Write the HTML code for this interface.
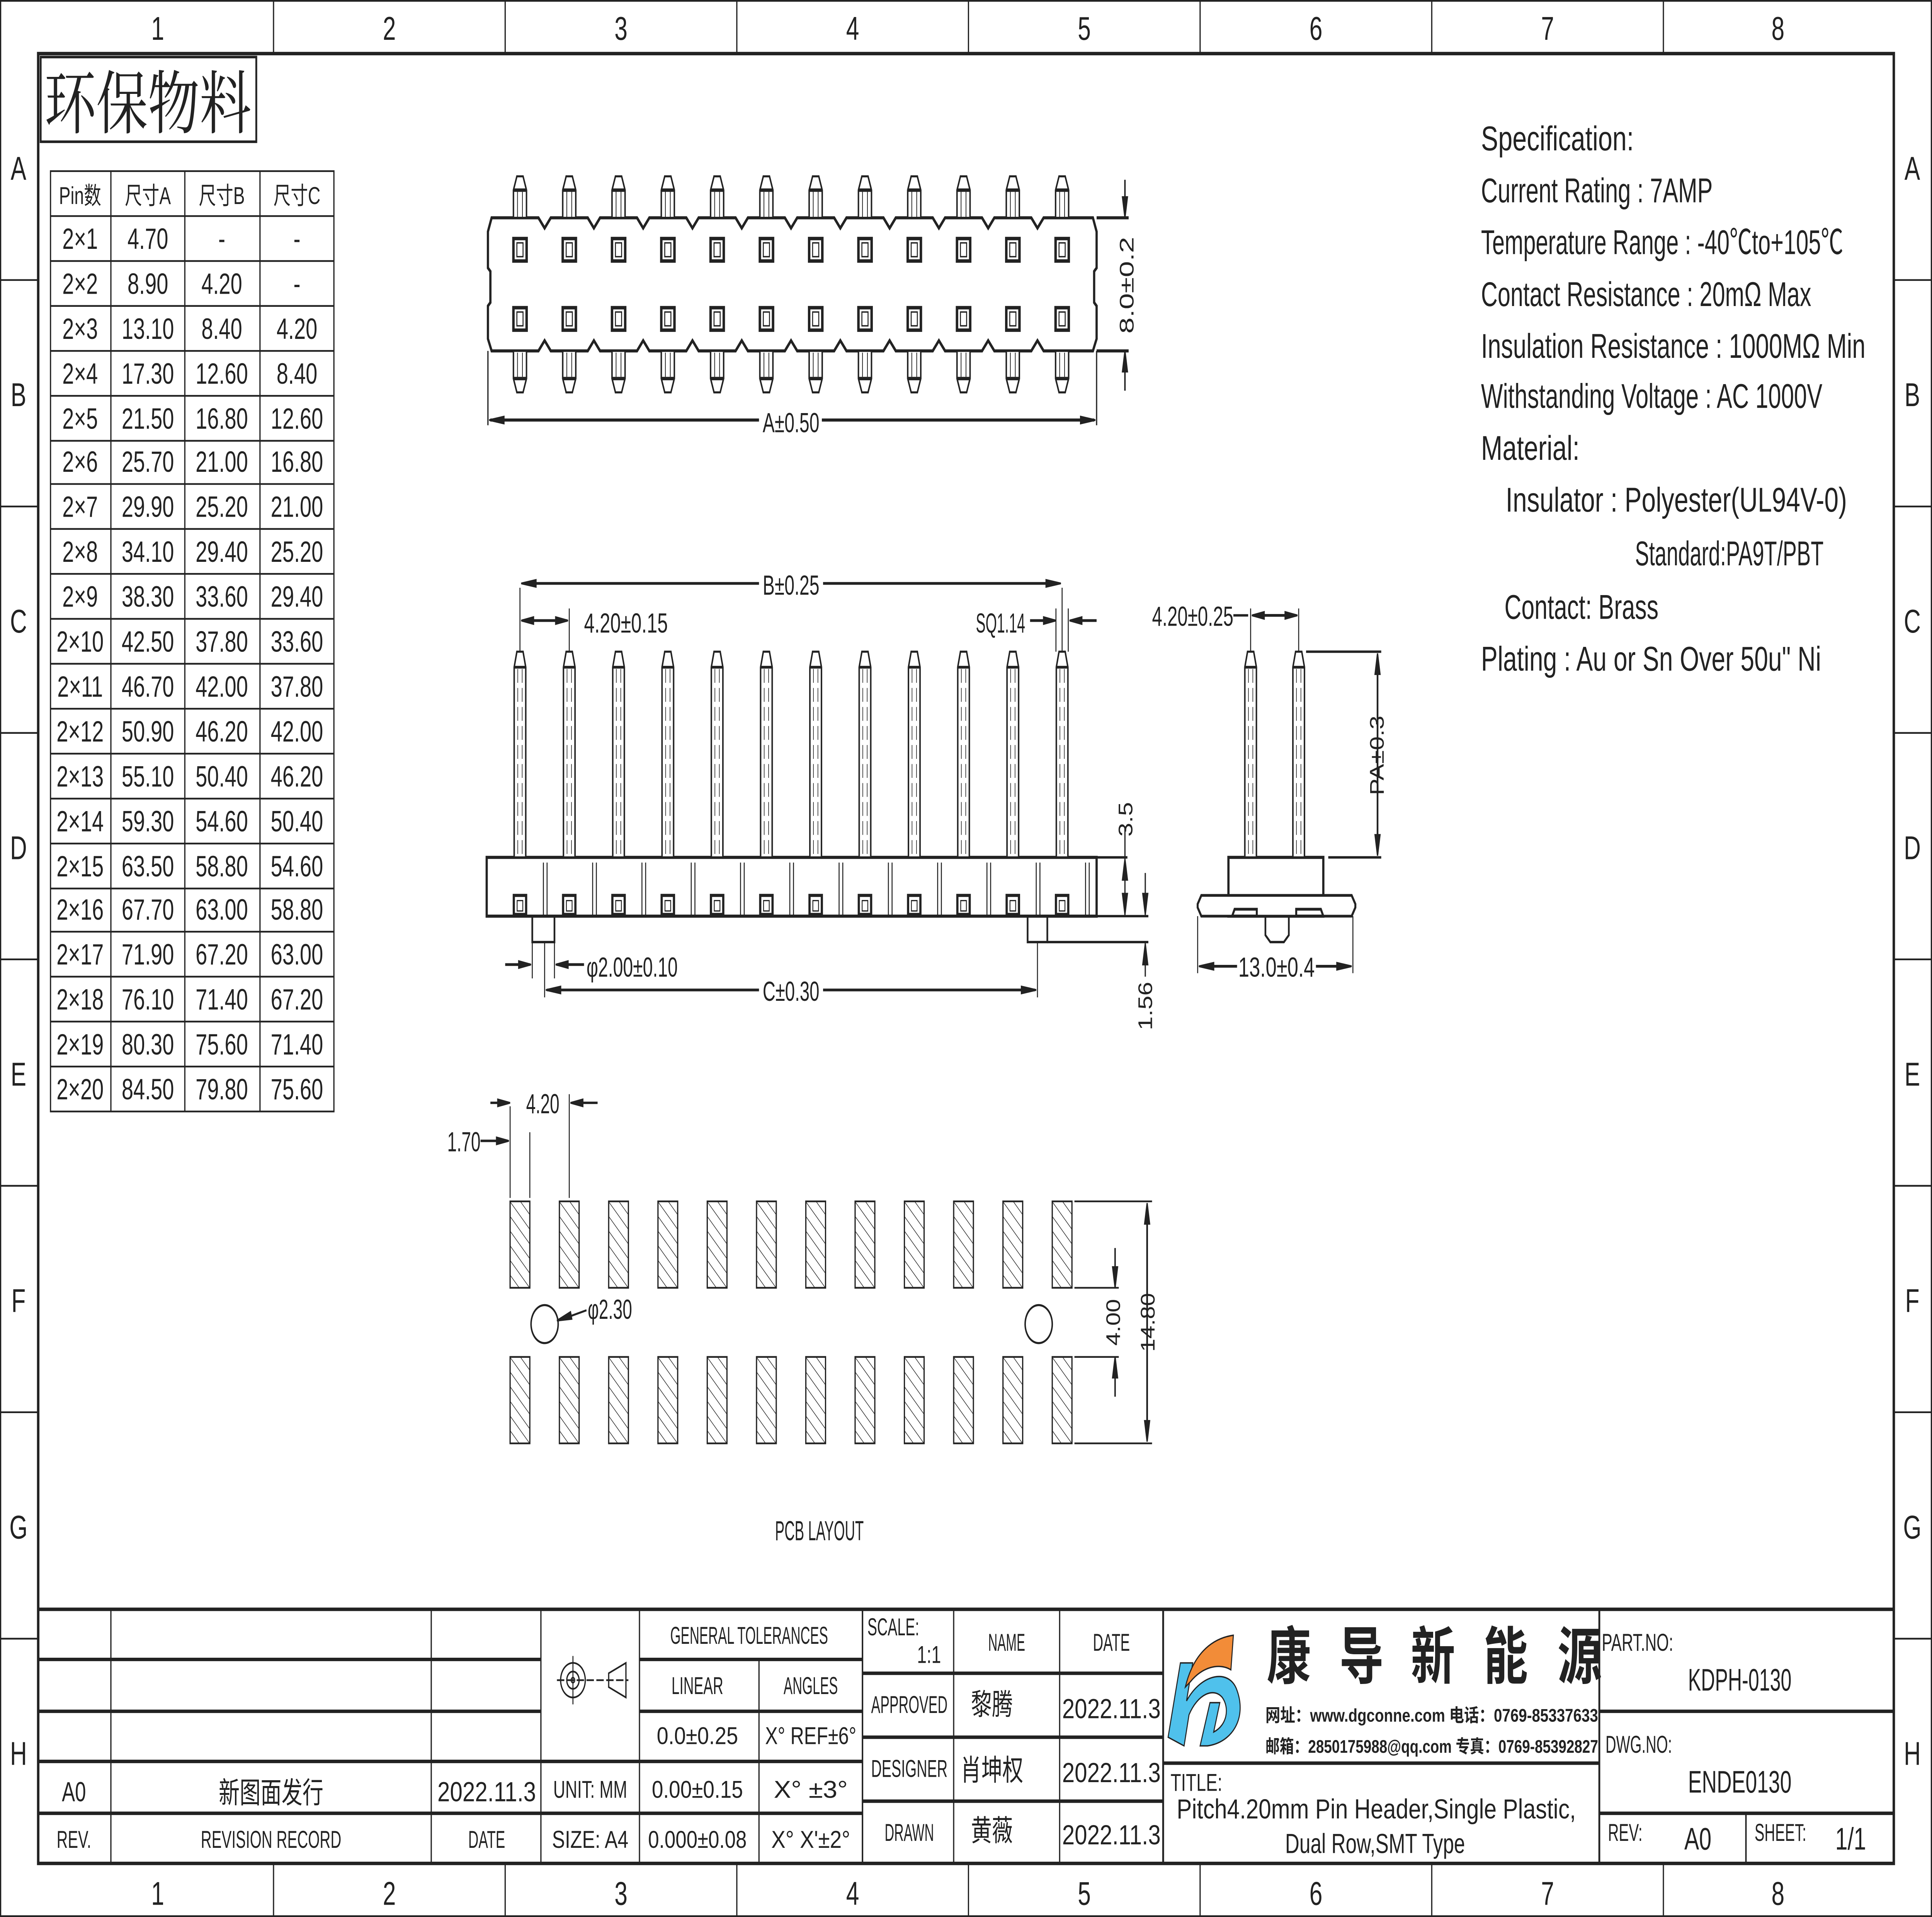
<!DOCTYPE html>
<html><head><meta charset="utf-8"><style>
html,body{margin:0;padding:0;background:#fff;width:100%;height:100%;overflow:hidden}
svg{display:block;position:fixed;left:0;top:0;width:100vw;height:100vh}
text{font-family:"Liberation Sans","Noto Sans CJK SC",sans-serif;fill:#222}
.s{font-family:"Liberation Serif","Noto Serif CJK SC",serif}
</style></head><body>
<svg viewBox="0 0 1568 1109" preserveAspectRatio="none" xmlns="http://www.w3.org/2000/svg">
<defs>
<pattern id="h" patternUnits="userSpaceOnUse" width="6" height="6" patternTransform="rotate(-45)">
<line x1="0" y1="0" x2="0" y2="6" stroke="#222" stroke-width="0.8"/></pattern>
<g id="tp" fill="#fff" stroke="#222" stroke-width="1.2">
<path d="M-2.5,102 L2.5,102 L5.3,110 L5.3,126 L-5.3,126 L-5.3,110 Z"/><line x1="-5.3" y1="110" x2="5.3" y2="110" stroke-width="2"/>
<line x1="-2" y1="111" x2="-2" y2="126" stroke-width="0.6"/><line x1="2" y1="111" x2="2" y2="126" stroke-width="0.6"/></g>
<g id="bp" fill="#fff" stroke="#222" stroke-width="1.2">
<path d="M-5.3,203 L5.3,203 L5.3,219 L2.5,227 L-2.5,227 L-5.3,219 Z"/><line x1="-5.3" y1="219" x2="5.3" y2="219" stroke-width="2"/>
<line x1="-2" y1="204" x2="-2" y2="218" stroke-width="0.6"/><line x1="2" y1="204" x2="2" y2="218" stroke-width="0.6"/></g>
<g id="sq" fill="none" stroke="#222"><rect x="-5.3" y="0" width="10.7" height="13" stroke-width="2"/><rect x="-2.5" y="2.5" width="5" height="8" stroke-width="0.8"/></g>
<g id="sp" fill="#fff" stroke="#222" stroke-width="1.2">
<path d="M-2.5,377 L2.5,377 L4.7,386 L4.7,496 L-4.7,496 L-4.7,386 Z"/><line x1="-4.7" y1="386" x2="4.7" y2="386" stroke-width="1.6"/>
<line x1="-1.8" y1="387" x2="-1.8" y2="496" stroke-width="0.5" stroke-dasharray="8,3"/><line x1="1.8" y1="387" x2="1.8" y2="496" stroke-width="0.5" stroke-dasharray="8,3"/></g>
<g id="sb" fill="none" stroke="#222"><rect x="-5" y="518" width="10" height="11" stroke-width="1.8"/><rect x="-2.3" y="521" width="4.6" height="6" stroke-width="0.7"/>
<line x1="19" y1="499" x2="19" y2="530" stroke-width="0.8"/><line x1="22" y1="499" x2="22" y2="530" stroke-width="0.8"/></g>
<rect id="pd" x="-8" y="0" width="16" height="50" fill="url(#h)" stroke="#222" stroke-width="1"/>
</defs>

<rect x="0.5" y="0.5" width="1567" height="1108" fill="#fff" stroke="#222" stroke-width="1"/>
<rect x="31" y="31" width="1506" height="1047" fill="none" stroke="#222" stroke-width="2"/>
<g stroke="#222" stroke-width="1">
<line x1="222" y1="0" x2="222" y2="31"/><line x1="410" y1="0" x2="410" y2="31"/><line x1="598" y1="0" x2="598" y2="31"/><line x1="786" y1="0" x2="786" y2="31"/><line x1="974" y1="0" x2="974" y2="31"/><line x1="1162" y1="0" x2="1162" y2="31"/><line x1="1350" y1="0" x2="1350" y2="31"/>
<line x1="222" y1="1078" x2="222" y2="1109"/><line x1="410" y1="1078" x2="410" y2="1109"/><line x1="598" y1="1078" x2="598" y2="1109"/><line x1="786" y1="1078" x2="786" y2="1109"/><line x1="974" y1="1078" x2="974" y2="1109"/><line x1="1162" y1="1078" x2="1162" y2="1109"/><line x1="1350" y1="1078" x2="1350" y2="1109"/>
<line x1="0" y1="162" x2="31" y2="162"/><line x1="0" y1="293" x2="31" y2="293"/><line x1="0" y1="424" x2="31" y2="424"/><line x1="0" y1="555" x2="31" y2="555"/><line x1="0" y1="686" x2="31" y2="686"/><line x1="0" y1="817" x2="31" y2="817"/><line x1="0" y1="948" x2="31" y2="948"/>
<line x1="1537" y1="162" x2="1568" y2="162"/><line x1="1537" y1="293" x2="1568" y2="293"/><line x1="1537" y1="424" x2="1568" y2="424"/><line x1="1537" y1="555" x2="1568" y2="555"/><line x1="1537" y1="686" x2="1568" y2="686"/><line x1="1537" y1="817" x2="1568" y2="817"/><line x1="1537" y1="948" x2="1568" y2="948"/>
</g>
<g font-size="19" text-anchor="middle">
<text x="128" y="23">1</text><text x="316" y="23">2</text><text x="504" y="23">3</text><text x="692" y="23">4</text><text x="880" y="23">5</text><text x="1068" y="23">6</text><text x="1256" y="23">7</text><text x="1443" y="23">8</text>
<text x="128" y="1102">1</text><text x="316" y="1102">2</text><text x="504" y="1102">3</text><text x="692" y="1102">4</text><text x="880" y="1102">5</text><text x="1068" y="1102">6</text><text x="1256" y="1102">7</text><text x="1443" y="1102">8</text>
<text x="15" y="104">A</text><text x="15" y="235">B</text><text x="15" y="366">C</text><text x="15" y="497">D</text><text x="15" y="628">E</text><text x="15" y="759">F</text><text x="15" y="890">G</text><text x="15" y="1021">H</text>
<text x="1552" y="104">A</text><text x="1552" y="235">B</text><text x="1552" y="366">C</text><text x="1552" y="497">D</text><text x="1552" y="628">E</text><text x="1552" y="759">F</text><text x="1552" y="890">G</text><text x="1552" y="1021">H</text>
</g>

<rect x="33" y="33" width="175" height="49" fill="none" stroke="#222" stroke-width="1.5"/>
<text x="36" y="74" font-size="40" class="s" textLength="168" lengthAdjust="spacingAndGlyphs">环保物料</text>

<g stroke="#222" stroke-width="1" fill="none">
<rect x="41" y="99" width="230" height="544"/>
<line x1="90" y1="99" x2="90" y2="643"/><line x1="150" y1="99" x2="150" y2="643"/><line x1="211" y1="99" x2="211" y2="643"/>
<line x1="41" y1="125" x2="271" y2="125"/><line x1="41" y1="151" x2="271" y2="151"/><line x1="41" y1="177" x2="271" y2="177"/><line x1="41" y1="203" x2="271" y2="203"/><line x1="41" y1="229" x2="271" y2="229"/><line x1="41" y1="255" x2="271" y2="255"/><line x1="41" y1="280" x2="271" y2="280"/><line x1="41" y1="306" x2="271" y2="306"/><line x1="41" y1="332" x2="271" y2="332"/><line x1="41" y1="358" x2="271" y2="358"/><line x1="41" y1="384" x2="271" y2="384"/><line x1="41" y1="410" x2="271" y2="410"/><line x1="41" y1="436" x2="271" y2="436"/><line x1="41" y1="462" x2="271" y2="462"/><line x1="41" y1="488" x2="271" y2="488"/><line x1="41" y1="514" x2="271" y2="514"/><line x1="41" y1="539" x2="271" y2="539"/><line x1="41" y1="565" x2="271" y2="565"/><line x1="41" y1="591" x2="271" y2="591"/><line x1="41" y1="617" x2="271" y2="617"/>
</g>
<g font-size="17" text-anchor="middle">
<text x="65" y="118" font-size="14">Pin数</text><text x="120" y="118" font-size="14">尺寸A</text><text x="180" y="118" font-size="14">尺寸B</text><text x="241" y="118" font-size="14">尺寸C</text>
<text x="65" y="144">2×1</text><text x="120" y="144">4.70</text><text x="180" y="144">-</text><text x="241" y="144">-</text>
<text x="65" y="170">2×2</text><text x="120" y="170">8.90</text><text x="180" y="170">4.20</text><text x="241" y="170">-</text>
<text x="65" y="196">2×3</text><text x="120" y="196">13.10</text><text x="180" y="196">8.40</text><text x="241" y="196">4.20</text>
<text x="65" y="222">2×4</text><text x="120" y="222">17.30</text><text x="180" y="222">12.60</text><text x="241" y="222">8.40</text>
<text x="65" y="248">2×5</text><text x="120" y="248">21.50</text><text x="180" y="248">16.80</text><text x="241" y="248">12.60</text>
<text x="65" y="273">2×6</text><text x="120" y="273">25.70</text><text x="180" y="273">21.00</text><text x="241" y="273">16.80</text>
<text x="65" y="299">2×7</text><text x="120" y="299">29.90</text><text x="180" y="299">25.20</text><text x="241" y="299">21.00</text>
<text x="65" y="325">2×8</text><text x="120" y="325">34.10</text><text x="180" y="325">29.40</text><text x="241" y="325">25.20</text>
<text x="65" y="351">2×9</text><text x="120" y="351">38.30</text><text x="180" y="351">33.60</text><text x="241" y="351">29.40</text>
<text x="65" y="377">2×10</text><text x="120" y="377">42.50</text><text x="180" y="377">37.80</text><text x="241" y="377">33.60</text>
<text x="65" y="403">2×11</text><text x="120" y="403">46.70</text><text x="180" y="403">42.00</text><text x="241" y="403">37.80</text>
<text x="65" y="429">2×12</text><text x="120" y="429">50.90</text><text x="180" y="429">46.20</text><text x="241" y="429">42.00</text>
<text x="65" y="455">2×13</text><text x="120" y="455">55.10</text><text x="180" y="455">50.40</text><text x="241" y="455">46.20</text>
<text x="65" y="481">2×14</text><text x="120" y="481">59.30</text><text x="180" y="481">54.60</text><text x="241" y="481">50.40</text>
<text x="65" y="507">2×15</text><text x="120" y="507">63.50</text><text x="180" y="507">58.80</text><text x="241" y="507">54.60</text>
<text x="65" y="532">2×16</text><text x="120" y="532">67.70</text><text x="180" y="532">63.00</text><text x="241" y="532">58.80</text>
<text x="65" y="558">2×17</text><text x="120" y="558">71.90</text><text x="180" y="558">67.20</text><text x="241" y="558">63.00</text>
<text x="65" y="584">2×18</text><text x="120" y="584">76.10</text><text x="180" y="584">71.40</text><text x="241" y="584">67.20</text>
<text x="65" y="610">2×19</text><text x="120" y="610">80.30</text><text x="180" y="610">75.60</text><text x="241" y="610">71.40</text>
<text x="65" y="636">2×20</text><text x="120" y="636">84.50</text><text x="180" y="636">79.80</text><text x="241" y="636">75.60</text>
</g>

<g font-size="20">
<text x="1202" y="87" textLength="124" lengthAdjust="spacingAndGlyphs">Specification:</text>
<text x="1202" y="117" textLength="188" lengthAdjust="spacingAndGlyphs">Current Rating : 7AMP</text>
<text x="1202" y="147" textLength="294" lengthAdjust="spacingAndGlyphs">Temperature Range : -40℃to+105℃</text>
<text x="1202" y="177" textLength="268" lengthAdjust="spacingAndGlyphs">Contact Resistance : 20mΩ Max</text>
<text x="1202" y="207" textLength="312" lengthAdjust="spacingAndGlyphs">Insulation Resistance : 1000MΩ Min</text>
<text x="1202" y="236" textLength="277" lengthAdjust="spacingAndGlyphs">Withstanding Voltage : AC 1000V</text>
<text x="1202" y="266" textLength="80" lengthAdjust="spacingAndGlyphs">Material:</text>
<text x="1222" y="296" textLength="277" lengthAdjust="spacingAndGlyphs">Insulator : Polyester(UL94V-0)</text>
<text x="1327" y="327" textLength="153" lengthAdjust="spacingAndGlyphs">Standard:PA9T/PBT</text>
<text x="1221" y="358" textLength="125" lengthAdjust="spacingAndGlyphs">Contact: Brass</text>
<text x="1202" y="388" textLength="276" lengthAdjust="spacingAndGlyphs">Plating : Au or Sn Over 50u" Ni</text>
</g>

<g stroke="#222" fill="none">
<path d="M396,134 L399,126 L437,126 L442,132 L447,126 L477,126 L482,132 L487,126 L517,126 L522,132 L527,126 L557,126 L562,132 L567,126 L597,126 L602,132 L607,126 L637,126 L642,132 L647,126 L677,126 L682,132 L687,126 L717,126 L722,132 L727,126 L757,126 L762,132 L767,126 L797,126 L802,132 L807,126 L837,126 L842,132 L847,126 L887,126 L890,134 L890,155 L888,157 L888,175 L890,177 L890,196 L887,203 L847,203 L842,197 L837,203 L807,203 L802,197 L797,203 L767,203 L762,197 L757,203 L727,203 L722,197 L717,203 L687,203 L682,197 L677,203 L647,203 L642,197 L637,203 L607,203 L602,197 L597,203 L567,203 L562,197 L557,203 L527,203 L522,197 L517,203 L487,203 L482,197 L477,203 L447,203 L442,197 L437,203 L399,203 L396,196 L396,177 L398,175 L398,157 L396,155 Z" stroke-width="1.8"/>
<line x1="890" y1="126" x2="916" y2="126" stroke-width="1.8"/><line x1="890" y1="203" x2="916" y2="203" stroke-width="1.8"/>
<line x1="913" y1="104" x2="913" y2="126" stroke-width="1.2"/><path d="M913,126 L911,114 L915,114 Z" fill="#222"/>
<line x1="913" y1="203" x2="913" y2="226" stroke-width="1.2"/><path d="M913,203 L911,215 L915,215 Z" fill="#222"/>
<line x1="396" y1="203" x2="396" y2="246" stroke-width="1"/><line x1="890" y1="203" x2="890" y2="246" stroke-width="1"/>
<line x1="398" y1="243" x2="616" y2="243" stroke-width="1.8"/><line x1="667" y1="243" x2="888" y2="243" stroke-width="1.8"/>
<path d="M397,243 L409,241 L409,245 Z M889,243 L877,241 L877,245 Z" fill="#222"/>
</g>
<text x="642" y="250" font-size="16" text-anchor="middle" textLength="46" lengthAdjust="spacingAndGlyphs">A±0.50</text>
<text transform="translate(920,165) rotate(-90)" font-size="16" text-anchor="middle" textLength="56" lengthAdjust="spacingAndGlyphs">8.0±0.2</text>
<g>
<use href="#tp" x="422"/><use href="#tp" x="462"/><use href="#tp" x="502"/><use href="#tp" x="542"/><use href="#tp" x="582"/><use href="#tp" x="622"/><use href="#tp" x="662"/><use href="#tp" x="702"/><use href="#tp" x="742"/><use href="#tp" x="782"/><use href="#tp" x="822"/><use href="#tp" x="862"/>
<use href="#bp" x="422"/><use href="#bp" x="462"/><use href="#bp" x="502"/><use href="#bp" x="542"/><use href="#bp" x="582"/><use href="#bp" x="622"/><use href="#bp" x="662"/><use href="#bp" x="702"/><use href="#bp" x="742"/><use href="#bp" x="782"/><use href="#bp" x="822"/><use href="#bp" x="862"/>
<use href="#sq" x="422" y="138"/><use href="#sq" x="462" y="138"/><use href="#sq" x="502" y="138"/><use href="#sq" x="542" y="138"/><use href="#sq" x="582" y="138"/><use href="#sq" x="622" y="138"/><use href="#sq" x="662" y="138"/><use href="#sq" x="702" y="138"/><use href="#sq" x="742" y="138"/><use href="#sq" x="782" y="138"/><use href="#sq" x="822" y="138"/><use href="#sq" x="862" y="138"/>
<use href="#sq" x="422" y="178"/><use href="#sq" x="462" y="178"/><use href="#sq" x="502" y="178"/><use href="#sq" x="542" y="178"/><use href="#sq" x="582" y="178"/><use href="#sq" x="622" y="178"/><use href="#sq" x="662" y="178"/><use href="#sq" x="702" y="178"/><use href="#sq" x="742" y="178"/><use href="#sq" x="782" y="178"/><use href="#sq" x="822" y="178"/><use href="#sq" x="862" y="178"/>
</g>

<g stroke="#222" fill="none">
<rect x="395" y="496" width="495" height="34" stroke-width="1.8" fill="#fff"/>
<rect x="432" y="530" width="18" height="15" stroke-width="1.4"/><rect x="834" y="530" width="16" height="15" stroke-width="1.4"/>
<line x1="422" y1="340" x2="422" y2="377" stroke-width="0.8"/><line x1="862" y1="340" x2="862" y2="377" stroke-width="0.8"/>
<line x1="425" y1="337.5" x2="616" y2="337.5" stroke-width="1.6"/><line x1="668" y1="337.5" x2="859" y2="337.5" stroke-width="1.6"/>
<path d="M423,337.5 L435,335.5 L435,339.5 Z M861,337.5 L849,335.5 L849,339.5 Z" fill="#222"/>
<line x1="462" y1="352" x2="462" y2="377" stroke-width="0.8"/>
<line x1="424" y1="359" x2="460" y2="359" stroke-width="1.6"/><path d="M423,359 L433,357 L433,361 Z M461,359 L451,357 L451,361 Z" fill="#222"/>
<line x1="857" y1="352" x2="857" y2="377" stroke-width="0.8"/><line x1="867" y1="352" x2="867" y2="377" stroke-width="0.8"/>
<line x1="836" y1="359" x2="856" y2="359" stroke-width="1.6"/><path d="M857,359 L847,357 L847,361 Z" fill="#222"/>
<line x1="869" y1="359" x2="890" y2="359" stroke-width="1.6"/><path d="M868,359 L878,357 L878,361 Z" fill="#222"/>
<line x1="890" y1="496" x2="915" y2="496" stroke-width="1.4"/><line x1="890" y1="530" x2="932" y2="530" stroke-width="1.4"/>
<line x1="913" y1="478" x2="913" y2="530" stroke-width="1"/><path d="M913,497 L911,509 L915,509 Z M913,529 L911,517 L915,517 Z" fill="#222"/>
<line x1="850" y1="545" x2="932" y2="545" stroke-width="1.4"/>
<line x1="929.5" y1="505" x2="929.5" y2="530" stroke-width="1"/><line x1="929.5" y1="545" x2="929.5" y2="565" stroke-width="1"/>
<path d="M929.5,529 L927.5,517 L931.5,517 Z M929.5,546 L927.5,558 L931.5,558 Z" fill="#222"/>
<line x1="432" y1="545" x2="432" y2="566" stroke-width="0.8"/><line x1="450" y1="545" x2="450" y2="566" stroke-width="0.8"/>
<line x1="410" y1="558" x2="430" y2="558" stroke-width="1.6"/><path d="M431,558 L421,556 L421,560 Z" fill="#222"/>
<line x1="452" y1="558" x2="474" y2="558" stroke-width="1.6"/><path d="M451,558 L461,556 L461,560 Z" fill="#222"/>
<line x1="442" y1="545" x2="442" y2="577" stroke-width="0.8"/><line x1="842" y1="545" x2="842" y2="577" stroke-width="0.8"/>
<line x1="444" y1="572.7" x2="616" y2="572.7" stroke-width="1.6"/><line x1="668" y1="572.7" x2="840" y2="572.7" stroke-width="1.6"/>
<path d="M443,572.7 L455,570.7 L455,574.7 Z M841,572.7 L829,570.7 L829,574.7 Z" fill="#222"/>
</g>
<g>
<use href="#sp" x="422"/><use href="#sp" x="462"/><use href="#sp" x="502"/><use href="#sp" x="542"/><use href="#sp" x="582"/><use href="#sp" x="622"/><use href="#sp" x="662"/><use href="#sp" x="702"/><use href="#sp" x="742"/><use href="#sp" x="782"/><use href="#sp" x="822"/><use href="#sp" x="862"/>
<use href="#sb" x="422"/><use href="#sb" x="462"/><use href="#sb" x="502"/><use href="#sb" x="542"/><use href="#sb" x="582"/><use href="#sb" x="622"/><use href="#sb" x="662"/><use href="#sb" x="702"/><use href="#sb" x="742"/><use href="#sb" x="782"/><use href="#sb" x="822"/><use href="#sb" x="862"/>
</g>
<g font-size="16">
<text x="642" y="344" text-anchor="middle" textLength="46" lengthAdjust="spacingAndGlyphs">B±0.25</text>
<text x="474" y="366" textLength="68" lengthAdjust="spacingAndGlyphs">4.20±0.15</text>
<text x="792" y="366" textLength="40" lengthAdjust="spacingAndGlyphs">SQ1.14</text>
<text x="476" y="565" textLength="74" lengthAdjust="spacingAndGlyphs">φ2.00±0.10</text>
<text x="642" y="579" text-anchor="middle" textLength="46" lengthAdjust="spacingAndGlyphs">C±0.30</text>
<text transform="translate(919,474) rotate(-90)" text-anchor="middle" textLength="20" lengthAdjust="spacingAndGlyphs">3.5</text>
<text transform="translate(935,582) rotate(-90)" text-anchor="middle" textLength="28" lengthAdjust="spacingAndGlyphs">1.56</text>
</g>

<g stroke="#222" fill="none">
<rect x="997" y="496" width="77" height="34" stroke-width="1.8" fill="#fff"/>
<path d="M975,518 L1097,518 L1100,523 L1100,525 L1097,530 L1074,530 L1072,526 L1052,526 L1052,530 L1020,530 L1020,526 L1002,526 L1000,530 L975,530 L972,525 L972,523 Z" stroke-width="1.6" fill="#fff"/>
<path d="M1027,530 L1046,530 L1046,541 L1042,545 L1031,545 L1027,541 Z" stroke-width="1.4"/>
<line x1="972" y1="530" x2="972" y2="563" stroke-width="0.8"/><line x1="1098" y1="530" x2="1098" y2="563" stroke-width="0.8"/>
<line x1="975" y1="559" x2="1004" y2="559" stroke-width="1.6"/><line x1="1068" y1="559" x2="1095" y2="559" stroke-width="1.6"/>
<path d="M973,559 L985,557 L985,561 Z M1097,559 L1085,557 L1085,561 Z" fill="#222"/>
<line x1="1015" y1="352" x2="1015" y2="377" stroke-width="0.8"/><line x1="1054" y1="352" x2="1054" y2="377" stroke-width="0.8"/>
<line x1="1001" y1="356" x2="1013" y2="356" stroke-width="1.4"/>
<line x1="1017" y1="356" x2="1052" y2="356" stroke-width="1.6"/><path d="M1016,356 L1026,354 L1026,358 Z M1053,356 L1043,354 L1043,358 Z" fill="#222"/>
<line x1="1060" y1="377" x2="1121" y2="377" stroke-width="1.4"/><line x1="1078" y1="496" x2="1121" y2="496" stroke-width="1.4"/>
<line x1="1118" y1="379" x2="1118" y2="494" stroke-width="1.4"/><path d="M1118,378 L1116,390 L1120,390 Z M1118,495 L1116,483 L1120,483 Z" fill="#222"/>
</g>
<use href="#sp" x="1015"/><use href="#sp" x="1054"/>
<g font-size="16">
<text x="935" y="362" textLength="66" lengthAdjust="spacingAndGlyphs">4.20±0.25</text>
<text x="1036" y="565" text-anchor="middle" textLength="62" lengthAdjust="spacingAndGlyphs">13.0±0.4</text>
<text transform="translate(1123,437) rotate(-90)" text-anchor="middle" textLength="46" lengthAdjust="spacingAndGlyphs">PA±0.3</text>
</g>

<g>
<use href="#pd" x="422" y="695"/><use href="#pd" x="462" y="695"/><use href="#pd" x="502" y="695"/><use href="#pd" x="542" y="695"/><use href="#pd" x="582" y="695"/><use href="#pd" x="622" y="695"/><use href="#pd" x="662" y="695"/><use href="#pd" x="702" y="695"/><use href="#pd" x="742" y="695"/><use href="#pd" x="782" y="695"/><use href="#pd" x="822" y="695"/><use href="#pd" x="862" y="695"/>
<use href="#pd" x="422" y="785"/><use href="#pd" x="462" y="785"/><use href="#pd" x="502" y="785"/><use href="#pd" x="542" y="785"/><use href="#pd" x="582" y="785"/><use href="#pd" x="622" y="785"/><use href="#pd" x="662" y="785"/><use href="#pd" x="702" y="785"/><use href="#pd" x="742" y="785"/><use href="#pd" x="782" y="785"/><use href="#pd" x="822" y="785"/><use href="#pd" x="862" y="785"/>
</g>
<g stroke="#222" fill="none">
<circle cx="442" cy="766" r="11" stroke-width="1.2"/><circle cx="843" cy="766" r="11" stroke-width="1.2"/>
<line x1="453" y1="764" x2="476" y2="758" stroke-width="1.2"/><path d="M452,764 L463,759 L464,763 Z" fill="#222"/>
<line x1="414" y1="640" x2="414" y2="693" stroke-width="0.8"/><line x1="430" y1="655" x2="430" y2="693" stroke-width="0.8"/><line x1="462" y1="633" x2="462" y2="693" stroke-width="0.8"/>
<line x1="390" y1="660" x2="412" y2="660" stroke-width="1.4"/><path d="M413,660 L403,658 L403,662 Z" fill="#222"/>
<line x1="398" y1="638" x2="412" y2="638" stroke-width="1.4"/><path d="M414,638 L404,636 L404,640 Z" fill="#222"/>
<line x1="464" y1="638" x2="485" y2="638" stroke-width="1.4"/><path d="M463,638 L473,636 L473,640 Z" fill="#222"/>
<line x1="872" y1="695" x2="935" y2="695" stroke-width="1"/><line x1="872" y1="835" x2="935" y2="835" stroke-width="1"/>
<line x1="872" y1="745" x2="908" y2="745" stroke-width="1"/><line x1="872" y1="785" x2="908" y2="785" stroke-width="1"/>
<line x1="931" y1="697" x2="931" y2="833" stroke-width="1.4"/><path d="M931,696 L929,708 L933,708 Z M931,834 L929,822 L933,822 Z" fill="#222"/>
<line x1="905" y1="722" x2="905" y2="745" stroke-width="1.2"/><path d="M905,745 L903,733 L907,733 Z" fill="#222"/>
<line x1="905" y1="785" x2="905" y2="808" stroke-width="1.2"/><path d="M905,785 L903,797 L907,797 Z" fill="#222"/>
</g>
<g font-size="16">
<text x="363" y="666" textLength="27" lengthAdjust="spacingAndGlyphs">1.70</text>
<text x="427" y="644" textLength="27" lengthAdjust="spacingAndGlyphs">4.20</text>
<text x="477" y="763" textLength="36" lengthAdjust="spacingAndGlyphs">φ2.30</text>
<text transform="translate(909,765) rotate(-90)" text-anchor="middle" textLength="27" lengthAdjust="spacingAndGlyphs">4.00</text>
<text transform="translate(937,765) rotate(-90)" text-anchor="middle" textLength="34" lengthAdjust="spacingAndGlyphs">14.80</text>
<text x="665" y="891" text-anchor="middle" textLength="72" lengthAdjust="spacingAndGlyphs">PCB LAYOUT</text>
</g>

<g stroke="#222" fill="none">
<line x1="31" y1="931" x2="1537" y2="931" stroke-width="2"/>
<line x1="31" y1="960" x2="439" y2="960" stroke-width="2"/><line x1="31" y1="990" x2="439" y2="990" stroke-width="2"/><line x1="31" y1="1019" x2="700" y2="1019" stroke-width="2"/><line x1="31" y1="1049" x2="700" y2="1049" stroke-width="2"/>
<line x1="519" y1="960" x2="700" y2="960" stroke-width="2"/><line x1="519" y1="990" x2="700" y2="990" stroke-width="2"/>
<line x1="90" y1="931" x2="90" y2="1078" stroke-width="1"/><line x1="350" y1="931" x2="350" y2="1078" stroke-width="1"/><line x1="439" y1="931" x2="439" y2="1078" stroke-width="1"/><line x1="519" y1="931" x2="519" y2="1078" stroke-width="1"/><line x1="616" y1="960" x2="616" y2="1078" stroke-width="1"/>
<line x1="700" y1="931" x2="700" y2="1078" stroke-width="1.2"/><line x1="774" y1="931" x2="774" y2="1078" stroke-width="1"/><line x1="860" y1="931" x2="860" y2="1078" stroke-width="1"/><line x1="944" y1="931" x2="944" y2="1078" stroke-width="1.5"/>
<line x1="700" y1="968" x2="944" y2="968" stroke-width="2"/><line x1="700" y1="1005" x2="944" y2="1005" stroke-width="2"/><line x1="700" y1="1042" x2="944" y2="1042" stroke-width="2"/>
<line x1="944" y1="1020" x2="1298" y2="1020" stroke-width="2"/>
<line x1="1298" y1="931" x2="1298" y2="1078" stroke-width="1.5"/>
<line x1="1298" y1="990" x2="1537" y2="990" stroke-width="2"/><line x1="1298" y1="1049" x2="1537" y2="1049" stroke-width="2"/>
<line x1="1417" y1="1049" x2="1417" y2="1078" stroke-width="1.2"/>
<circle cx="465" cy="972" r="10" stroke-width="1"/><circle cx="465" cy="972" r="5" stroke-width="1"/><circle cx="465" cy="972" r="1.5" stroke-width="0.8"/>
<line x1="465" y1="958" x2="465" y2="986" stroke-width="0.8"/>
<line x1="452" y1="972" x2="510" y2="972" stroke-width="1" stroke-dasharray="6,2"/>
<path d="M508,962 L508,982 L494,976 L494,968 Z" stroke-width="1"/>
</g>
<g font-size="14" class="s" text-anchor="middle">
<text x="608" y="951" textLength="128" lengthAdjust="spacingAndGlyphs">GENERAL TOLERANCES</text>
<text x="566" y="980" textLength="42" lengthAdjust="spacingAndGlyphs">LINEAR</text><text x="658" y="980" textLength="44" lengthAdjust="spacingAndGlyphs">ANGLES</text>
<text x="566" y="1009" textLength="66" lengthAdjust="spacingAndGlyphs">0.0±0.25</text><text x="658" y="1009" textLength="74" lengthAdjust="spacingAndGlyphs">X° REF±6°</text>
<text x="60" y="1042" font-size="16">A0</text><text x="220" y="1043" font-size="17">新图面发行</text><text x="395" y="1042" font-size="16" textLength="80" lengthAdjust="spacingAndGlyphs">2022.11.3</text>
<text x="479" y="1040" textLength="60" lengthAdjust="spacingAndGlyphs">UNIT: MM</text><text x="566" y="1040" textLength="74" lengthAdjust="spacingAndGlyphs">0.00±0.15</text><text x="658" y="1040" textLength="60" lengthAdjust="spacingAndGlyphs">X° ±3°</text>
<text x="60" y="1069" textLength="28" lengthAdjust="spacingAndGlyphs">REV.</text><text x="220" y="1069" textLength="114" lengthAdjust="spacingAndGlyphs">REVISION RECORD</text><text x="395" y="1069" textLength="30" lengthAdjust="spacingAndGlyphs">DATE</text>
<text x="479" y="1069" textLength="62" lengthAdjust="spacingAndGlyphs">SIZE: A4</text><text x="566" y="1069" textLength="80" lengthAdjust="spacingAndGlyphs">0.000±0.08</text><text x="658" y="1069" textLength="64" lengthAdjust="spacingAndGlyphs">X° X'±2°</text>
<text x="704" y="946" text-anchor="start" textLength="42" lengthAdjust="spacingAndGlyphs">SCALE:</text><text x="754" y="962">1:1</text>
<text x="817" y="955" textLength="30" lengthAdjust="spacingAndGlyphs">NAME</text><text x="902" y="955" textLength="30" lengthAdjust="spacingAndGlyphs">DATE</text>
<text x="738" y="991" textLength="62" lengthAdjust="spacingAndGlyphs">APPROVED</text><text x="805" y="992" font-size="17">黎腾</text><text x="902" y="994" font-size="16" textLength="80" lengthAdjust="spacingAndGlyphs">2022.11.3</text>
<text x="738" y="1028" textLength="62" lengthAdjust="spacingAndGlyphs">DESIGNER</text><text x="805" y="1030" font-size="17">肖坤权</text><text x="902" y="1031" font-size="16" textLength="80" lengthAdjust="spacingAndGlyphs">2022.11.3</text>
<text x="738" y="1065" textLength="40" lengthAdjust="spacingAndGlyphs">DRAWN</text><text x="805" y="1065" font-size="17">黄薇</text><text x="902" y="1067" font-size="16" textLength="80" lengthAdjust="spacingAndGlyphs">2022.11.3</text>
<text x="950" y="1036" text-anchor="start" textLength="42" lengthAdjust="spacingAndGlyphs">TITLE:</text>
<text x="1117" y="1052" font-size="16" textLength="324" lengthAdjust="spacingAndGlyphs">Pitch4.20mm Pin Header,Single Plastic,</text>
<text x="1116" y="1072" font-size="16" textLength="146" lengthAdjust="spacingAndGlyphs">Dual Row,SMT Type</text>
<text x="1300" y="955" text-anchor="start" textLength="58" lengthAdjust="spacingAndGlyphs">PART.NO:</text>
<text x="1412" y="978" font-size="18" textLength="84" lengthAdjust="spacingAndGlyphs">KDPH-0130</text>
<text x="1303" y="1014" text-anchor="start" textLength="54" lengthAdjust="spacingAndGlyphs">DWG.NO:</text>
<text x="1412" y="1037" font-size="18" textLength="84" lengthAdjust="spacingAndGlyphs">ENDE0130</text>
<text x="1305" y="1065" text-anchor="start" textLength="28" lengthAdjust="spacingAndGlyphs">REV:</text><text x="1378" y="1070" font-size="18">A0</text>
<text x="1424" y="1065" text-anchor="start" textLength="42" lengthAdjust="spacingAndGlyphs">SHEET:</text><text x="1502" y="1070" font-size="18">1/1</text>
</g>
<path d="M948,1005 L958,962 L968,962 L963,984 C975,968 998,965 1004,978 C1012,994 1000,1008 980,1010 L974,1010 L982,985 L990,985 L985,1002 C996,998 998,988 992,982 C985,976 972,980 965,992 L961,1010 Z" fill="#4fc1ec" stroke="#222" stroke-width="0.8"/>
<path d="M962,976 C968,958 982,948 1001,946 L999,966 C990,962 976,964 966,973 Z" fill="#f28c38" stroke="#222" stroke-width="0.8"/>
<g font-size="36" font-weight="bold" text-anchor="middle">
<text x="1046" y="971">康</text><text x="1105" y="971">导</text><text x="1163" y="971">新</text><text x="1222" y="971">能</text><text x="1282" y="971">源</text>
</g>
<g font-size="10.5" font-weight="bold">
<text x="1027" y="996" textLength="270" lengthAdjust="spacingAndGlyphs">网址：www.dgconne.com      电话：0769-85337633</text>
<text x="1027" y="1014" textLength="270" lengthAdjust="spacingAndGlyphs">邮箱：2850175988@qq.com  专真：0769-85392827</text>
</g>
</svg>
</body></html>
